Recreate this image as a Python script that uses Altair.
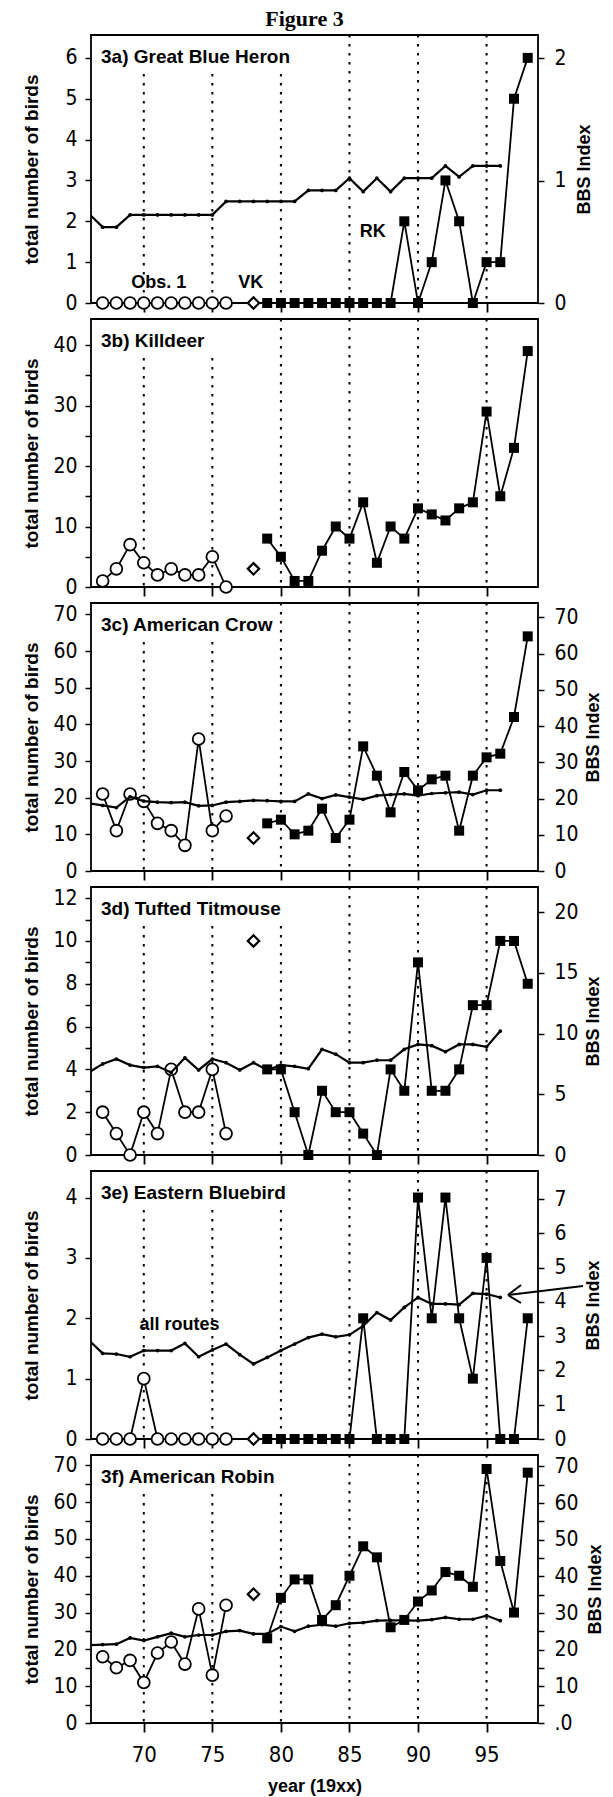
import altair as alt
import pandas as pd

# ---------------- data ----------------
obs_years = list(range(67, 77))      # Obs. 1 (open circles)
vk_years = [78]                      # VK (open diamond)
rk_years = list(range(79, 99))       # RK (filled squares)
bbs_years = list(range(66, 97))      # BBS index (right axis)
grid_years = [70, 75, 80, 85, 90, 95]

heron_obs = [0, 0, 0, 0, 0, 0, 0, 0, 0, 0]
heron_vk = [0]
heron_rk = [0, 0, 0, 0, 0, 0, 0, 0, 0, 0, 2, 0, 1, 3, 2, 0, 1, 1, 5, 6]
heron_bbs = [0.73, 0.62, 0.62, 0.72, 0.72, 0.72, 0.72, 0.72, 0.72, 0.72,
             0.83, 0.83, 0.83, 0.83, 0.83, 0.83, 0.92, 0.92, 0.92, 1.02,
             0.91, 1.02, 0.91, 1.02, 1.02, 1.02, 1.12, 1.03, 1.12, 1.12, 1.12]

killdeer_obs = [1, 3, 7, 4, 2, 3, 2, 2, 5, 0]
killdeer_vk = [3]
killdeer_rk = [8, 5, 1, 1, 6, 10, 8, 14, 4, 10, 8, 13, 12, 11, 13, 14, 29, 15, 23, 39]

crow_obs = [21, 11, 21, 19, 13, 11, 7, 36, 11, 15]
crow_vk = [9]
crow_rk = [13, 14, 10, 11, 17, 9, 14, 34, 26, 16, 27, 22, 25, 26, 11, 26, 31, 32, 42, 64]
crow_bbs = [18.7, 18.1, 17.5, 20.5, 19.3, 19.0, 18.9, 19.0, 18.0, 18.1,
            19.0, 19.2, 19.5, 19.4, 19.2, 19.2, 21.3, 20.0, 21.0, 20.4,
            19.8, 20.8, 21.1, 21.3, 20.8, 21.4, 21.6, 21.8, 21.1, 22.3, 22.3]

titmouse_obs = [2, 1, 0, 2, 1, 4, 2, 2, 4, 1]
titmouse_vk = [10]
titmouse_rk = [4, 4, 2, 0, 3, 2, 2, 1, 0, 4, 3, 9, 3, 3, 4, 7, 7, 10, 10, 8]
titmouse_bbs = [6.8, 7.5, 7.9, 7.4, 7.2, 7.3, 6.8, 8.0, 7.0, 7.9,
                7.6, 7.0, 7.6, 7.0, 7.4, 7.3, 7.1, 8.7, 8.3, 7.6,
                7.6, 7.8, 7.8, 8.7, 9.1, 9.0, 8.5, 9.1, 9.1, 8.9, 10.2]

bluebird_obs = [0, 0, 0, 1, 0, 0, 0, 0, 0, 0]
bluebird_vk = [0]
bluebird_rk = [0, 0, 0, 0, 0, 0, 0, 2, 0, 0, 0, 4, 2, 4, 2, 1, 3, 0, 0, 2]
bluebird_bbs = [2.88, 2.50, 2.48, 2.40, 2.58, 2.58, 2.58, 2.79, 2.40, 2.60,
                2.77, 2.46, 2.19, 2.38, 2.58, 2.77, 2.96, 3.06, 2.98, 3.04,
                3.30, 3.69, 3.47, 3.84, 4.13, 3.94, 3.94, 3.92, 4.25, 4.23, 4.13]

robin_obs = [18, 15, 17, 11, 19, 22, 16, 31, 13, 32]
robin_vk = [35]
robin_rk = [23, 34, 39, 39, 28, 32, 40, 48, 45, 26, 28, 33, 36, 41, 40, 37, 69, 44, 30, 68]
robin_bbs = [21.2, 21.4, 21.5, 23.2, 22.5, 23.5, 24.5, 23.5, 24.0, 24.0,
             25.0, 25.2, 24.3, 24.3, 26.3, 25.0, 26.4, 26.8, 26.4, 27.2,
             27.4, 27.9, 28.0, 28.0, 27.9, 28.2, 28.8, 28.3, 28.3, 29.3, 27.9]

labels = ["3a) Great Blue Heron", "3b) Killdeer", "3c) American Crow",
          "3d) Tufted Titmouse", "3e) Eastern Bluebird", "3f) American Robin"]
figure_title = "Figure 3"

# ---------------- styling ----------------
W, H = 447, 268
XDOM = [66.15, 98.75]
NUM_FONT = "'Liberation Sans Narrow', 'DejaVu Sans Condensed', 'Arial Narrow', sans-serif"
TXT_FONT = "'Liberation Sans', Arial, sans-serif"
SERIF = "'Liberation Serif', 'Times New Roman', serif"

panels = [
    dict(obs=heron_obs, vk=heron_vk, rk=heron_rk, bbs=heron_bbs,
         ldom=6.56, lvals=list(range(0, 7)), lmaj=1,
         rdom=2.19, rvals=[0, 1, 2], rmaj=1, short=[70, 75, 80], rtx=46),
    dict(obs=killdeer_obs, vk=killdeer_vk, rk=killdeer_rk, bbs=None,
         ldom=44.3, lvals=list(range(0, 41, 5)), lmaj=10, short=[70, 75]),
    dict(obs=crow_obs, vk=crow_vk, rk=crow_rk, bbs=crow_bbs,
         ldom=73.1, lvals=list(range(0, 71, 10)), lmaj=10,
         rdom=74.0, rvals=list(range(0, 71, 10)), rmaj=10, short=[70, 75], rtx=55),
    dict(obs=titmouse_obs, vk=titmouse_vk, rk=titmouse_rk, bbs=titmouse_bbs,
         ldom=12.52, lvals=list(range(0, 13)), lmaj=2,
         rdom=22.06, rvals=[0, 5, 10, 15, 20], rmaj=5, short=[70, 75, 80], rtx=55),
    dict(obs=bluebird_obs, vk=bluebird_vk, rk=bluebird_rk, bbs=bluebird_bbs,
         ldom=4.44, lvals=[0, 1, 2, 3, 4], lmaj=1,
         rdom=7.82, rvals=list(range(0, 8)), rmaj=1, short=[70, 75, 80], rtx=55),
    dict(obs=robin_obs, vk=robin_vk, rk=robin_rk, bbs=robin_bbs,
         ldom=72.8, lvals=list(range(0, 71, 5)), lmaj=10,
         rdom=73.1, rvals=list(range(0, 71, 5)), rmaj=10, short=[70, 75, 80],
         rzero=".0", rtx=57),
]

annotations = {
    0: [("Obs. 1", 71.1, 0.5), ("VK", 77.8, 0.5), ("RK", 86.7, 1.74)],
    4: [("all routes", 72.6, 1.89)],
}


def build_panel(i, p):
    bottom = i == len(panels) - 1
    xaxis_kw = dict(values=grid_years, tickSize=9, tickWidth=1.8, labels=bottom,
                    labelFontSize=22, labelPadding=12, labelFlush=False)
    if bottom:
        xaxis_kw.update(title="year  (19xx)", titleFontSize=18, titleY=63,
                        titleBaseline="middle")
    else:
        xaxis_kw.update(title=None)
    xs = alt.Scale(domain=XDOM, nice=False, zero=False)
    x = alt.X("year:Q", scale=xs, axis=alt.Axis(**xaxis_kw))

    yl_axis = alt.Axis(values=p["lvals"], orient="left", tickSize=6, labelPadding=8,
                       labelExpr=f"datum.value % {p['lmaj']} == 0 ? datum.label : ''",
                       title="total number of birds", titleX=-60, titleY=H / 2,
                       titleAngle=270, titleAlign="center", titleBaseline="middle",
                       titleFontSize=19, labelOverlap=False)
    yl = alt.Y("v:Q", scale=alt.Scale(domain=[0, p["ldom"]], nice=False, zero=False),
               axis=yl_axis)

    short_df = pd.DataFrame({"year": p["short"]})
    long_df = pd.DataFrame({"year": [g for g in grid_years if g not in p["short"]]})
    dash = dict(color="black", strokeDash=[2.5, 6.5], strokeWidth=2)
    r_short = alt.Chart(short_df).mark_rule(**dash).encode(x=x, y=alt.value(39), y2=alt.value(H))
    r_long = alt.Chart(long_df).mark_rule(**dash).encode(x=x, y=alt.value(0), y2=alt.value(H))

    obs_df = pd.DataFrame({"year": obs_years, "v": p["obs"]})
    vk_df = pd.DataFrame({"year": vk_years, "v": p["vk"]})
    rk_df = pd.DataFrame({"year": rk_years, "v": p["rk"]})

    obs_line = alt.Chart(obs_df).mark_line(color="black", strokeWidth=1.8).encode(x=x, y=yl)
    obs_pts = alt.Chart(obs_df).mark_point(shape="circle", filled=True, fill="white",
                                           stroke="black", strokeWidth=1.8, size=140,
                                           opacity=1).encode(x=x, y=yl)
    vk_pt = alt.Chart(vk_df).mark_point(shape="diamond", filled=True, fill="white",
                                        stroke="black", strokeWidth=2.2, size=130,
                                        opacity=1).encode(x=x, y=yl)
    rk_line = alt.Chart(rk_df).mark_line(color="black", strokeWidth=1.8).encode(x=x, y=yl)
    rk_pts = alt.Chart(rk_df).mark_square(color="black", size=100, opacity=1).encode(x=x, y=yl)

    lab = alt.Chart(pd.DataFrame({"t": [labels[i]]})).mark_text(
        align="left", baseline="alphabetic", font=TXT_FONT, fontSize=19,
        fontWeight="bold", color="black").encode(x=alt.value(10), y=alt.value(28), text="t:N")

    left_layers = [r_short, r_long, obs_line, obs_pts, vk_pt, rk_line, rk_pts, lab]
    if i == 0:
        left_layers.append(
            alt.Chart(pd.DataFrame({"t": [figure_title]})).mark_text(
                align="center", baseline="alphabetic", font=SERIF, fontSize=22,
                fontWeight="bold", color="black").encode(
                x=alt.value(W / 2 - 10), y=alt.value(-9), text="t:N"))
    for txt, yr, val in annotations.get(i, []):
        left_layers.append(
            alt.Chart(pd.DataFrame({"t": [txt], "year": [yr], "v": [val]})).mark_text(
                align="center", baseline="middle", font=TXT_FONT, fontSize=18,
                fontWeight="bold", color="black").encode(x=x, y=yl, text="t:N"))
    left = alt.layer(*left_layers)

    if p["bbs"] is None:
        return left.properties(width=W, height=H)

    rz = p.get("rzero")
    if rz:
        rexpr = (f"datum.value == 0 ? '{rz}' : "
                 f"(datum.value % {p['rmaj']} == 0 ? datum.label : '')")
    else:
        rexpr = f"datum.value % {p['rmaj']} == 0 ? datum.label : ''"
    yr_axis = alt.Axis(values=p["rvals"], orient="right", tickSize=6, labelPadding=10,
                       labelExpr=rexpr, title="BBS Index", titleAngle=270,
                       titleX=p["rtx"], titleY=H / 2, titleAlign="center",
                       titleBaseline="middle", labelOverlap=False)
    yr = alt.Y("b:Q", scale=alt.Scale(domain=[0, p["rdom"]], nice=False, zero=False),
               axis=yr_axis)
    bbs_df = pd.DataFrame({"year": bbs_years, "b": p["bbs"]})
    bbs_line = alt.Chart(bbs_df).mark_line(color="black", strokeWidth=2.2, clip=True).encode(x=x, y=yr)
    bbs_pts = alt.Chart(bbs_df).mark_circle(color="black", size=14, opacity=1, clip=True).encode(x=x, y=yr)
    right_layers = [bbs_line, bbs_pts]

    if i == 4:  # arrow pointing at the "all routes" BBS line
        one = pd.DataFrame({"a": [0]})
        seg = dict(color="black", strokeWidth=2)
        right_layers += [
            alt.Chart(one).mark_rule(**seg).encode(x=alt.value(417), y=alt.value(124),
                                                   x2=alt.value(492), y2=alt.value(115)),
            alt.Chart(one).mark_rule(**seg).encode(x=alt.value(417), y=alt.value(124),
                                                   x2=alt.value(430), y2=alt.value(114)),
            alt.Chart(one).mark_rule(**seg).encode(x=alt.value(417), y=alt.value(124),
                                                   x2=alt.value(430), y2=alt.value(132)),
        ]
    right = alt.layer(*right_layers)
    return alt.layer(left, right).resolve_scale(y="independent").properties(width=W, height=H)


charts = [build_panel(i, p) for i, p in enumerate(panels)]

chart = alt.vconcat(*charts, spacing=16, bounds="flush").properties(
    padding={"left": 21, "top": 7, "right": 5, "bottom": 0}
).configure_view(
    stroke="black", strokeWidth=1.8
).configure_axis(
    labelFont=NUM_FONT, labelFontSize=21, labelColor="black",
    tickColor="black", tickWidth=1.5, domain=False, grid=False,
    titleFont=TXT_FONT, titleFontSize=18, titleFontWeight="bold", titleColor="black"
)

chart.save("out.html", embed_options={"renderer": "svg", "actions": False})
